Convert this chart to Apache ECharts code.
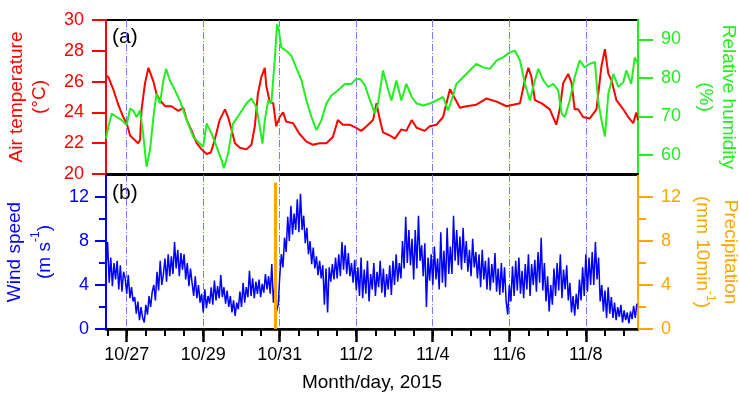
<!DOCTYPE html>
<html><head><meta charset="utf-8">
<script src="https://cdn.jsdelivr.net/npm/echarts@6/dist/echarts.min.js"></script>
<style>html,body{margin:0;padding:0;background:#fff}#c{width:739px;height:400px}</style>
</head><body><div id="c"></div>
<script>
// x values: days since 2015-10-27 00:00
const xMin = -0.54, xMax = 13.365;
const dateTicks = [0, 2, 4, 6, 8, 10, 12];
const halfDayTicks = [-0.5, 0, 0.5, 1, 1.5, 2, 2.5, 3, 3.5, 4, 4.5, 5, 5.5, 6, 6.5, 7, 7.5, 8, 8.5, 9, 9.5, 10, 10.5, 11, 11.5, 12, 12.5, 13];
const tempTicks = [20, 22, 24, 26, 28, 30];
const rhTicks = [60, 70, 80, 90];
const windTicks = [0, 4, 8, 12];
const windMinorTicks = [2, 6, 10];

const tempDays = [-0.54,-0.48,-0.35,-0.22,-0.09,0,0.09,0.17,0.3,0.35,0.39,0.48,0.57,0.61,0.7,0.78,0.87,1.0,1.17,1.35,1.48,1.57,1.7,1.83,1.96,2.09,2.2,2.3,2.43,2.57,2.65,2.74,2.83,2.96,3.13,3.26,3.35,3.43,3.52,3.61,3.65,3.74,3.83,3.91,4.0,4.09,4.17,4.35,4.52,4.7,4.87,5.04,5.22,5.39,5.52,5.65,5.83,6.0,6.13,6.27,6.44,6.53,6.62,6.7,6.88,7.01,7.18,7.31,7.45,7.58,7.79,7.92,8.1,8.27,8.45,8.58,8.71,8.88,9.14,9.4,9.67,9.93,10.1,10.28,10.41,10.5,10.58,10.67,10.84,11.06,11.23,11.32,11.41,11.54,11.63,11.71,11.8,11.93,12.1,12.28,12.41,12.5,12.59,12.67,12.8,12.98,13.11,13.24,13.32,13.365];
const tempValues = [26.4,26.3,25.5,24.5,23.7,23.3,22.5,22.3,22.0,22.2,24.2,25.9,26.9,26.8,26.0,25.2,24.8,24.4,24.4,24.1,24.3,23.5,22.8,22.0,21.6,21.3,21.4,22.2,23.5,24.2,23.7,22.9,22.0,21.7,21.6,21.9,23.1,25.2,26.3,26.9,25.7,24.7,24.6,23.1,23.7,24.0,23.4,23.3,22.6,22.1,21.9,22.0,22.0,22.4,23.5,23.2,23.2,23.0,22.8,23.1,23.5,24.6,23.5,22.7,22.5,22.3,22.9,22.8,23.5,23.0,22.8,23.1,23.2,23.7,25.5,24.9,24.3,24.4,24.5,24.9,24.7,24.4,24.5,24.6,26.1,26.9,26.3,24.8,24.6,24.2,23.2,24.2,25.9,26.5,25.9,24.2,24.2,23.7,23.6,24.2,27.0,28.1,26.5,26.1,24.8,24.2,23.7,23.3,24.0,23.5];

const rhDays = [-0.54,-0.48,-0.39,-0.26,-0.13,0,0.09,0.17,0.26,0.35,0.43,0.52,0.61,0.7,0.78,0.87,0.96,1.03,1.13,1.22,1.39,1.57,1.74,1.91,2.0,2.09,2.22,2.35,2.48,2.54,2.65,2.78,2.96,3.13,3.26,3.39,3.48,3.55,3.61,3.7,3.78,3.87,3.93,3.98,4.04,4.17,4.3,4.43,4.57,4.7,4.83,4.96,5.09,5.22,5.35,5.52,5.7,5.87,6.0,6.1,6.23,6.36,6.49,6.57,6.7,6.84,6.92,7.05,7.18,7.31,7.45,7.58,7.75,7.92,8.1,8.27,8.4,8.49,8.62,8.8,8.97,9.14,9.32,9.49,9.67,9.84,10.01,10.15,10.28,10.41,10.54,10.67,10.76,10.89,11.02,11.15,11.28,11.37,11.45,11.58,11.71,11.84,11.97,12.1,12.24,12.32,12.41,12.5,12.59,12.72,12.85,12.98,13.06,13.19,13.28,13.365];
const rhValues = [64.2,67.2,70.7,69.8,69.0,67.7,72.0,71.5,69.8,71.5,65.5,56.9,61.2,69.8,75.9,73.3,79.3,82.3,79.3,77.6,74.1,69.0,64.7,62.9,62.1,68.1,65.5,62.1,58.6,56.5,60.3,68.1,70.7,73.3,74.6,72.4,67.2,62.9,69.0,74.1,73.3,84.5,93.9,92.2,87.9,87.0,85.8,82.7,79.3,74.1,69.8,66.4,69.0,73.3,75.4,76.7,78.4,78.4,79.7,79.7,78.0,74.1,70.7,73.3,81.9,76.7,74.1,79.3,74.1,78.4,75.0,73.3,72.8,73.3,74.1,75.0,71.5,74.1,78.4,80.2,81.9,83.6,82.7,82.3,84.5,85.3,86.6,87.0,84.5,78.4,74.1,79.3,82.3,79.3,77.6,78.4,76.7,70.7,69.8,74.1,80.2,84.5,82.7,83.6,84.1,74.1,69.0,64.7,75.9,81.0,77.6,78.8,81.9,78.4,85.3,83.6];

// hourly wind speed, first value at windStart (days), one value per hour
const windStart = -0.54;
const windStepDays = 1 / 24;
const windValues = [
5.5,7.9,4.2,6.5,3.9,6.0, 4.5,6.2,3.6,5.8,3.4,5.2, 4.6,3.2,4.9,2.8,3.8,2.5, 2.9,1.4,2.5,0.8,2.0,1.0,
0.6,2.2,1.3,3.0,2.0,3.4, 4.0,2.6,5.2,3.5,6.2,4.0, 5.0,6.4,4.3,6.8,4.8,6.6, 5.0,7.9,5.5,7.2,4.8,6.9,
5.4,6.8,4.5,6.0,3.9,5.5, 4.2,3.0,4.8,2.8,4.0,2.4, 3.2,1.5,3.6,1.9,3.0,2.3, 3.8,2.2,4.4,2.6,3.9,2.8,
4.9,2.9,3.8,2.3,3.5,2.0, 3.0,1.5,2.6,1.2,2.4,1.8, 3.4,2.0,4.2,2.4,3.8,2.9, 5.3,3.0,4.6,2.8,4.3,3.2,
4.5,2.9,4.1,3.3,5.0,3.6, 4.8,3.2,5.9,2.4,4.1,1.6, 2.2,4.8,6.8,5.6,8.3,7.0, 10.2,8.0,11.2,8.6,10.5,9.0,
11.8,8.8,12.3,9.0,10.3,7.8, 9.2,6.8,8.0,5.9,7.4,5.5, 6.6,4.9,6.2,4.6,5.8,2.2, 5.5,1.5,5.6,4.3,5.9,4.5,
6.5,4.6,6.8,4.8,7.9,5.4, 7.6,5.0,6.9,4.8,6.0,4.2, 6.3,3.5,5.6,3.0,6.5,2.8, 5.4,3.2,6.2,2.5,5.0,3.6,
6.0,3.0,5.2,3.8,6.2,3.3, 5.5,2.9,5.0,3.6,5.8,3.1, 6.2,4.0,6.8,4.3,6.0,4.6, 8.0,5.5,10.2,6.0,9.0,5.8,
8.2,4.5,9.0,5.5,10.3,6.2, 7.6,4.8,7.8,2.0,6.5,4.4, 6.8,4.0,7.5,4.5,6.4,3.6, 8.8,4.2,7.1,3.8,9.2,5.0,
7.5,5.0,10.3,6.2,9.0,5.8, 8.4,5.4,9.2,6.0,8.0,5.2, 7.2,4.8,8.2,5.6,7.0,4.6, 6.8,3.8,7.2,4.5,6.2,3.6,
6.5,3.5,5.9,4.2,6.9,3.4, 5.5,3.1,6.0,3.3,5.6,2.5, 1.3,4.0,2.5,5.7,3.0,6.2, 3.5,6.5,3.2,5.3,2.8,5.9,
3.6,6.8,3.0,5.9,4.0,6.3, 3.4,7.0,4.2,8.3,3.5,6.0, 2.5,4.8,1.6,4.0,2.2,5.5, 3.0,6.0,3.5,6.8,2.8,5.4,
3.6,5.8,2.6,4.2,1.5,3.0, 1.2,3.2,1.8,4.5,2.6,5.6, 3.0,6.8,3.4,6.5,4.0,7.0, 4.0,7.9,4.5,6.5,2.5,4.0,
1.6,3.5,1.0,3.8,1.4,2.9, 1.0,2.4,0.8,2.0,1.1,2.2, 0.6,1.7,0.8,1.5,0.5,1.6, 0.9,2.1,1.0,2.3
];

const precipDays = [3.89];
const precipValues = [13.3];

const RED = '#ff0000', GREEN = '#22ee22', BLUE = '#0000ff', ORANGE = '#ffa500';
const FONT = 'Liberation Sans, Arial, sans-serif';

function fmtDate(v) {
  const d = new Date(2015, 9, 27 + Math.round(v));
  return (d.getMonth() + 1) + '/' + d.getDate();
}
const pairs = (xs, ys) => xs.map((x, i) => [x, ys[i]]);
const windData = windValues.map((v, i) => [windStart + i * windStepDays, v]);

const gridLine = {show: true, lineStyle: {color: '#7a7aff', width: 1, type: [7, 2, 1, 2]}};
const supRich = {sup: {fontSize: 12, verticalAlign: 'top', lineHeight: 22, fontFamily: FONT}};

function yAx(o) {
  const base = {
    type: 'value', nameLocation: 'middle', nameMoveOverlap: false,
    splitLine: {show: false}
  };
  const r = Object.assign(base, o);
  r.axisLine = Object.assign({onZero: false}, o.axisLine || {});
  return r;
}

const option = {
  animation: false,
  backgroundColor: '#fff',
  textStyle: {fontFamily: FONT},
  grid: [
    {left: 106, right: 101, top: 20, height: 154, show: true, borderColor: '#000', borderWidth: 2, backgroundColor: 'transparent', outerBoundsMode: 'none', containLabel: false},
    {left: 106, right: 101, top: 175, height: 154, show: true, borderColor: '#000', borderWidth: 2, backgroundColor: 'transparent', outerBoundsMode: 'none', containLabel: false}
  ],
  xAxis: [
    {gridIndex: 0, type: 'value', min: xMin, max: xMax, position: 'bottom',
     axisLine: {show: true, onZero: false, lineStyle: {color: '#000', width: 2}},
     axisTick: {show: false, customValues: dateTicks},
     axisLabel: {show: false, customValues: dateTicks},
     splitLine: gridLine},
    {gridIndex: 1, type: 'value', min: xMin, max: xMax, position: 'bottom',
     axisLine: {show: true, onZero: false, lineStyle: {color: '#000', width: 2.5}},
     axisTick: {show: true, customValues: dateTicks, length: 13, lineStyle: {color: '#000', width: 2.5}},
     axisLabel: {show: true, customValues: dateTicks, formatter: fmtDate, color: '#000', fontSize: 18, margin: 17, fontFamily: FONT},
     splitLine: gridLine,
     name: 'Month/day, 2015', nameLocation: 'middle', nameGap: 44, nameMoveOverlap: false,
     nameTextStyle: {color: '#000', fontSize: 19, fontFamily: FONT}},
    {gridIndex: 1, type: 'value', min: xMin, max: xMax, position: 'bottom',
     axisLine: {show: false, onZero: false},
     axisTick: {show: true, customValues: halfDayTicks, length: 7, lineStyle: {color: '#000', width: 2}},
     axisLabel: {show: false, customValues: halfDayTicks},
     splitLine: {show: false}}
  ],
  yAxis: [
    yAx({gridIndex: 0, position: 'left', min: 20, max: 30,
      axisLine: {show: true, lineStyle: {color: RED, width: 2}},
      axisTick: {show: true, customValues: tempTicks, length: 14, lineStyle: {color: RED, width: 2}},
      axisLabel: {customValues: tempTicks, color: RED, fontSize: 18, margin: 22, fontFamily: FONT},
      name: 'Air temperature\n(°C)', nameGap: 55,
      nameTextStyle: {color: RED, fontSize: 19, lineHeight: 23, fontFamily: FONT}}),
    yAx({gridIndex: 0, position: 'right', min: 55, max: 95,
      axisLine: {show: true, lineStyle: {color: GREEN, width: 2}},
      axisTick: {show: true, customValues: rhTicks, length: 15, lineStyle: {color: GREEN, width: 2}},
      axisLabel: {customValues: rhTicks, color: GREEN, fontSize: 18, margin: 23, fontFamily: FONT},
      name: 'Relative humidity\n(%)', nameGap: 56, nameRotate: -90,
      nameTextStyle: {color: GREEN, fontSize: 19, lineHeight: 23, fontFamily: FONT}}),
    yAx({gridIndex: 1, position: 'left', min: 0, max: 14,
      axisLine: {show: true, lineStyle: {color: BLUE, width: 2}},
      axisTick: {show: true, customValues: windTicks, length: 11, lineStyle: {color: BLUE, width: 2}},
      axisLabel: {customValues: windTicks, color: BLUE, fontSize: 18, margin: 17, fontFamily: FONT},
      name: 'Wind speed\n(m s{sup|-1})', nameGap: 46,
      nameTextStyle: {color: BLUE, fontSize: 19, lineHeight: 30, fontFamily: FONT, rich: supRich}}),
    yAx({gridIndex: 1, position: 'left', min: 0, max: 14,
      axisLine: {show: false},
      axisTick: {show: true, customValues: windMinorTicks, length: 7, lineStyle: {color: BLUE, width: 2}},
      axisLabel: {show: false, customValues: windMinorTicks}}),
    yAx({gridIndex: 1, position: 'right', min: 0, max: 14,
      axisLine: {show: true, lineStyle: {color: ORANGE, width: 2}},
      axisTick: {show: true, customValues: windTicks, length: 15, lineStyle: {color: ORANGE, width: 2}},
      axisLabel: {customValues: windTicks, color: ORANGE, fontSize: 18, margin: 23, fontFamily: FONT},
      name: 'Precipitation\n(mm 10min{sup|-1})', nameGap: 50, nameRotate: -90,
      nameTextStyle: {color: ORANGE, fontSize: 19, lineHeight: 28, fontFamily: FONT, rich: supRich}}),
    yAx({gridIndex: 1, position: 'right', min: 0, max: 14,
      axisLine: {show: false},
      axisTick: {show: true, customValues: windMinorTicks, length: 8, lineStyle: {color: ORANGE, width: 2}},
      axisLabel: {show: false, customValues: windMinorTicks}})
  ],
  series: [
    {name: 'Air temperature', type: 'line', xAxisIndex: 0, yAxisIndex: 0, data: pairs(tempDays, tempValues),
     showSymbol: false, lineStyle: {color: RED, width: 2}, itemStyle: {color: RED}, z: 3},
    {name: 'Relative humidity', type: 'line', xAxisIndex: 0, yAxisIndex: 1, data: pairs(rhDays, rhValues),
     showSymbol: false, lineStyle: {color: GREEN, width: 2}, itemStyle: {color: GREEN}, z: 4},
    {name: 'Wind speed', type: 'line', xAxisIndex: 1, yAxisIndex: 2, data: windData,
     showSymbol: false, lineStyle: {color: BLUE, width: 1.5}, itemStyle: {color: BLUE}, z: 3},
    {name: 'Precipitation', type: 'bar', xAxisIndex: 1, yAxisIndex: 4, data: pairs(precipDays, precipValues),
     barWidth: 3, itemStyle: {color: ORANGE}, z: 4}
  ],
  graphic: [
    {type: 'text', left: 112, top: 27, style: {text: '(a)', fontSize: 21, fill: '#000', fontFamily: FONT}},
    {type: 'text', left: 112, top: 183, style: {text: '(b)', fontSize: 21, fill: '#000', fontFamily: FONT}}
  ]
};

const chart = echarts.init(document.getElementById('c'), null, {renderer: 'canvas'});
chart.setOption(option);
</script>
</body></html>
